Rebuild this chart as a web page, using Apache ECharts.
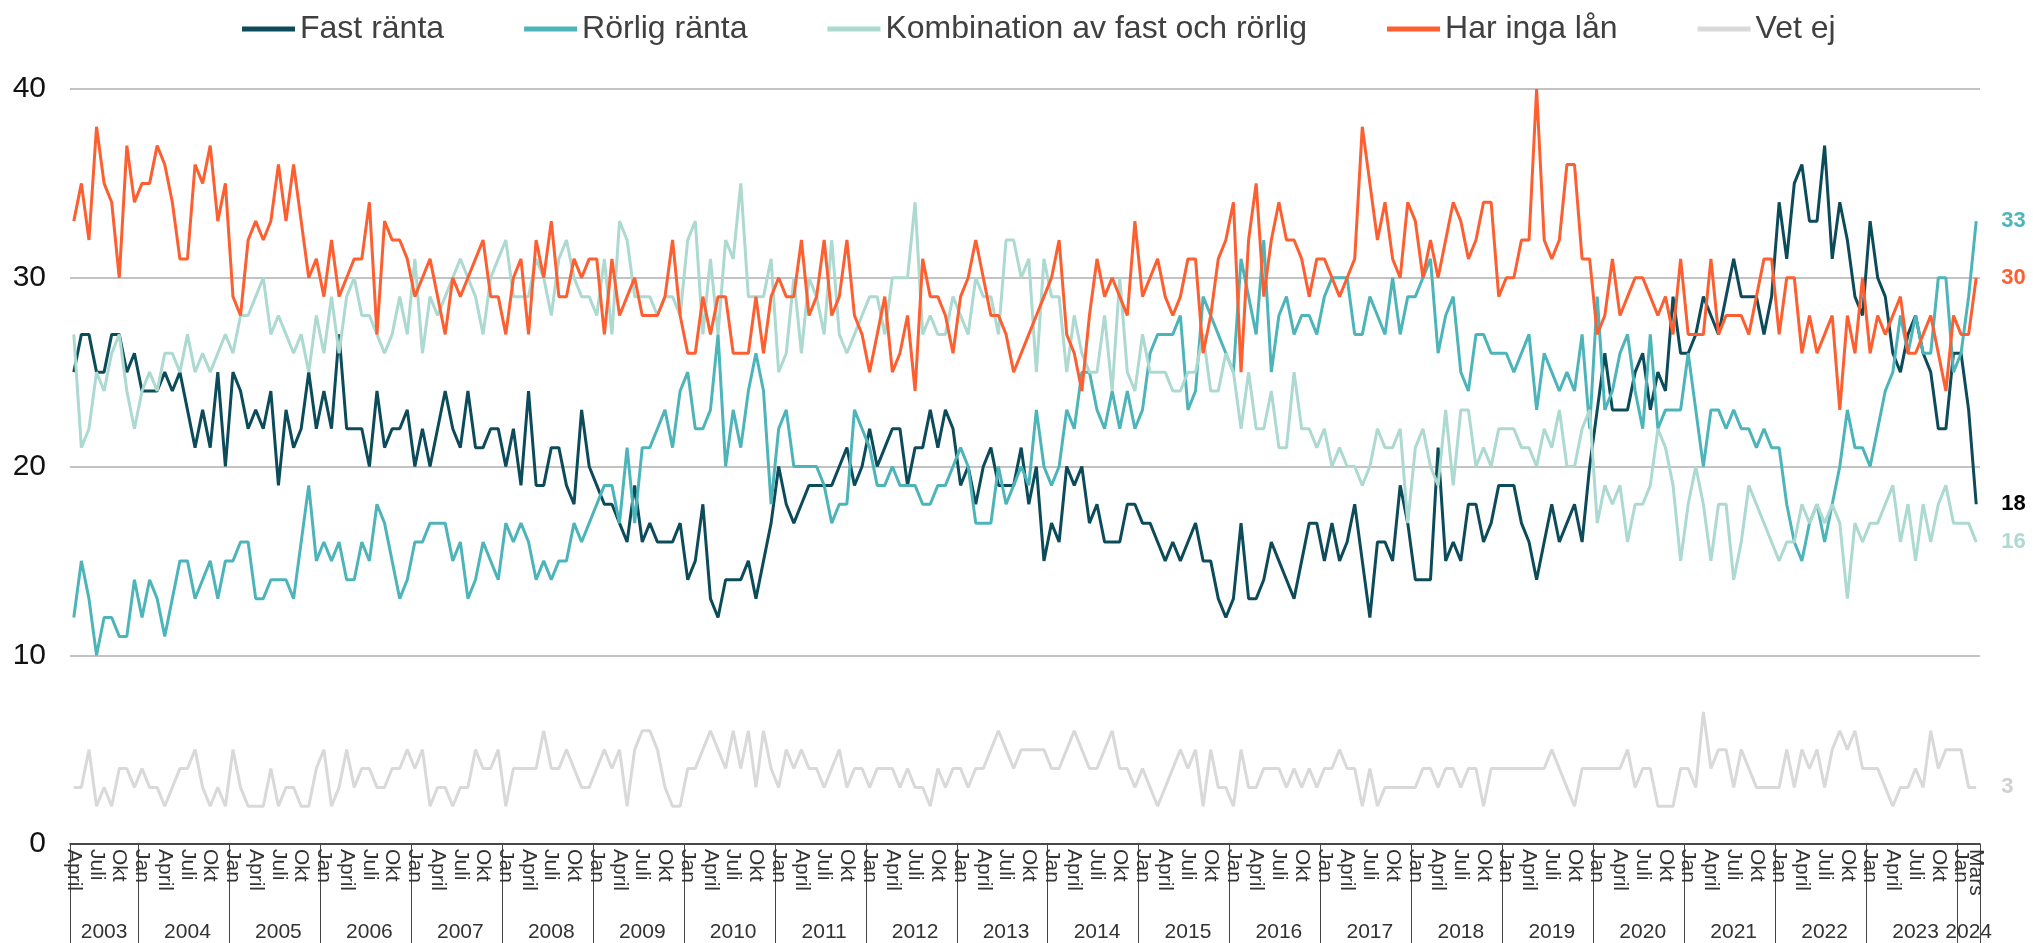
<!DOCTYPE html>
<html><head><meta charset="utf-8">
<script src="https://cdn.jsdelivr.net/npm/echarts@6/dist/echarts.min.js"></script>
<style>html,body{margin:0;padding:0;background:#fff}#c{width:2033px;height:943px}</style>
</head><body><div id="c"></div>
<script>
// ---- tick labels / categories ----
const monthNames = ['Jan','Feb','Mars','April','Maj','Juni','Juli','Aug','Sep','Okt','Nov','Dec'];
const years = ['2003','2004','2005','2006','2007','2008','2009','2010','2011','2012','2013','2014','2015','2016','2017','2018','2019','2020','2021','2022','2023','2024'];
const firstMonth = 3;   // April 2003
const nMonths = 252;    // April 2003 .. Mars 2024
const seriesNames = ['Fast ränta','Rörlig ränta','Kombination av fast och rörlig','Har inga lån','Vet ej'];

// ---- series values (percent), monthly ----
const fast = [
25,27,27,25,25,27,27,25,26,24,24,24,25,24,25,23,21,23,21,25,20,25,24,22,23,22,24,19,23,21,22,25,
22,24,22,27,22,22,22,20,24,21,22,22,23,20,22,20,22,24,22,21,24,21,21,22,22,20,22,19,24,19,19,
21,21,19,18,23,20,19,18,18,17,16,19,16,17,16,16,16,17,14,15,18,13,12,14,14,14,15,13,15,17,20,
18,17,18,19,19,19,19,20,21,19,20,22,20,21,22,22,19,21,21,23,21,23,22,19,20,18,20,21,19,19,19,
21,18,20,15,17,16,20,19,20,17,18,16,16,16,18,18,17,17,16,15,16,15,16,17,15,15,13,12,13,17,13,
13,14,16,15,14,13,15,17,17,15,17,15,16,18,15,12,16,16,15,19,17,14,14,14,21,15,16,15,18,18,16,
17,19,19,19,17,16,14,16,18,16,17,18,16,20,23,26,23,23,23,25,26,23,25,24,29,26,26,27,29,28,27,
29,31,29,29,29,27,29,34,31,35,36,33,33,37,31,34,32,29,28,33,30,29,26,25,27,28,26,25,22,22,26,26,23,18];
const rorlig = [
12,15,13,10,12,12,11,11,14,12,14,13,11,13,15,15,13,14,15,13,15,15,16,16,13,13,14,14,14,13,16,19,
15,16,15,16,14,14,16,15,18,17,15,13,14,16,16,17,17,17,15,16,13,14,16,15,14,17,16,17,16,14,15,
14,15,15,17,16,17,18,19,19,17,21,17,21,21,22,23,21,24,25,22,22,23,27,20,23,21,24,26,24,18,22,
23,20,20,20,20,19,17,18,18,23,22,21,19,19,20,19,19,19,18,18,19,19,20,21,20,17,17,17,20,18,19,
20,19,23,20,19,20,23,22,25,25,23,22,24,22,24,22,23,26,27,27,27,28,23,24,29,28,27,26,25,31,29,
27,32,25,28,29,27,28,28,27,29,30,30,30,27,27,29,28,27,30,27,29,29,30,31,26,28,29,25,24,27,27,
26,26,26,25,26,27,23,26,25,24,25,24,27,22,29,23,24,26,27,24,22,27,22,23,23,23,26,23,20,23,23,
22,23,22,22,21,22,21,21,18,16,15,17,18,16,18,20,23,21,21,20,22,24,25,28,26,28,26,26,30,30,25,26,29,33];
const kombination = [
27,21,22,25,24,26,27,24,22,24,25,24,26,26,25,27,25,26,25,26,27,26,28,28,29,30,27,28,27,26,27,25,
28,26,29,26,29,30,28,28,27,26,27,29,27,31,26,29,28,29,30,31,30,29,27,30,31,32,29,29,29,31,30,
28,31,32,30,29,29,28,31,27,33,32,29,29,29,28,29,29,28,32,33,27,31,27,32,31,35,29,29,29,31,25,
26,30,26,30,29,27,32,27,26,27,28,29,29,27,30,30,30,34,27,28,27,27,29,28,27,30,29,29,27,32,32,
30,31,25,31,29,29,25,28,26,25,25,28,24,30,25,24,27,25,25,25,24,24,25,25,27,24,24,26,25,22,25,
22,22,24,21,21,25,22,22,21,22,20,21,20,20,19,20,22,21,21,22,17,21,22,20,19,23,19,23,23,20,21,
20,22,22,22,21,21,20,22,21,23,20,20,22,23,17,19,18,19,16,18,18,19,22,21,19,15,18,20,18,15,18,
18,14,16,19,18,17,16,15,16,16,18,17,18,17,18,17,13,17,16,17,17,18,19,16,18,15,18,16,18,19,17,17,17,16];
const ingaLan = [
33,35,32,38,35,34,30,37,34,35,35,37,36,34,31,31,36,35,37,33,35,29,28,32,33,32,33,36,33,36,33,30,
31,29,32,29,30,31,31,34,27,33,32,32,31,29,30,31,29,27,30,29,30,31,32,29,29,27,30,31,27,32,30,
33,29,29,31,30,31,31,27,31,28,29,30,28,28,28,29,32,28,26,26,29,27,29,29,26,26,26,29,26,29,30,
29,29,32,28,29,32,28,29,32,28,27,25,27,29,25,26,28,24,31,29,29,28,26,29,30,32,30,28,28,27,25,
26,27,28,29,30,32,27,26,24,28,31,29,30,29,28,33,29,30,31,29,28,29,31,31,26,28,31,32,34,25,32,
35,29,32,34,32,32,31,29,31,31,30,29,30,31,38,35,32,34,31,30,34,33,30,32,30,32,34,33,31,32,34,
34,29,30,30,32,32,40,32,31,32,36,36,31,31,27,28,31,28,29,30,30,29,28,29,27,31,27,27,27,31,27,
28,28,28,27,29,31,31,27,30,30,26,28,26,27,28,23,28,26,30,26,28,27,28,29,26,26,27,28,26,24,28,27,27,30];
const vetEj = [
3,3,5,2,3,2,4,4,3,4,3,3,2,3,4,4,5,3,2,3,2,5,3,2,2,2,4,2,3,3,2,2,
4,5,2,3,5,3,4,4,3,3,4,4,5,4,5,2,3,3,2,3,3,5,4,4,5,2,4,4,4,4,6,
4,4,5,4,3,3,4,5,4,5,2,5,6,6,5,3,2,2,4,4,5,6,5,4,6,4,6,3,6,4,3,
5,4,5,4,4,3,4,5,3,4,4,3,4,4,4,3,4,3,3,2,4,3,4,4,3,4,4,5,6,5,4,
5,5,5,5,4,4,5,6,5,4,4,5,6,4,4,3,4,3,2,3,4,5,4,5,2,5,3,3,2,5,
3,3,4,4,4,3,4,3,4,3,4,4,5,4,4,2,4,2,3,3,3,3,3,4,4,3,4,4,3,4,
4,2,4,4,4,4,4,4,4,4,5,4,3,2,4,4,4,4,4,4,5,3,4,4,2,2,2,4,4,3,
7,4,5,5,3,5,4,3,3,3,3,5,3,5,4,5,3,5,6,5,6,4,4,4,3,2,3,3,4,3,
6,4,5,5,5,3,3];

// ---- build category axes from the small arrays above ----
const categories = [];
const yearCats = [];
for (let i = 0; i < nMonths; i++) {
  categories.push(monthNames[(firstMonth + i) % 12]);
  yearCats.push('');
}
years.forEach((y, k) => {
  const first = Math.max(0, k * 12 - firstMonth);
  const last = Math.min(nMonths - 1, k * 12 + 11 - firstMonth);
  yearCats[Math.round((first + last) / 2)] = y;
});

const colors = ['#0c4b5a', '#4db5ba', '#acd9d0', '#fd5f30', '#d9d9d9'];
const endColors = ['#000000', '#4db5ba', '#acd9d0', '#fd5f30', '#d0d0d0'];
const values = [fast, rorlig, kombination, ingaLan, vetEj];
const FONT = '"Liberation Sans", Arial, sans-serif';
const monthLabelStyle = {rotate: -90, fontSize: 21, color: '#333', margin: 5, fontFamily: FONT};

const chart = echarts.init(document.getElementById('c'), null, {renderer: 'canvas'});
chart.setOption({
  animation: false,
  color: colors,
  textStyle: {fontFamily: FONT},
  legend: {
    top: 8, left: 237, icon: 'rect', itemWidth: 53, itemHeight: 5, itemGap: 80,
    textStyle: {fontSize: 32, color: '#404040', fontFamily: FONT},
    data: seriesNames
  },
  grid: {left: 70, right: 53, top: 89, bottom: 99},
  xAxis: [{
    type: 'category', data: categories, boundaryGap: true,
    axisLine: {lineStyle: {color: '#222', width: 1.5}},
    axisTick: {show: true, length: 100, interval: (i) => i === 0 || (firstMonth + i) % 12 === 0,
               lineStyle: {color: '#444', width: 1}},
    axisLabel: Object.assign({interval: (i) => i % 3 === 0, showMaxLabel: true, showMinLabel: true,
                hideOverlap: false}, monthLabelStyle)
  }, {
    type: 'category', data: yearCats, boundaryGap: true, position: 'bottom',
    axisLine: {show: false}, axisTick: {show: false},
    axisLabel: {interval: 0, fontSize: 21, color: '#333', margin: 78, fontFamily: FONT,
                showMaxLabel: true, showMinLabel: true}
  }, {
    // last month label ("Mars") on its own axis so it is not dropped next to "Jan"
    type: 'category', data: categories, boundaryGap: true, position: 'bottom',
    axisLine: {show: false}, axisTick: {show: false},
    axisLabel: Object.assign({interval: (i) => i === nMonths - 1, showMaxLabel: true,
                showMinLabel: false}, monthLabelStyle)
  }],
  yAxis: {
    type: 'value', min: 0, max: 40, interval: 10,
    axisLine: {show: false}, axisTick: {show: false},
    axisLabel: {fontSize: 30, color: '#111', margin: 24, fontFamily: FONT},
    splitLine: {lineStyle: {color: '#c3c3c3', width: 2}}
  },
  series: seriesNames.map((n, k) => ({
    name: n, type: 'line', data: values[k], xAxisIndex: 0,
    symbol: 'none', showSymbol: false,
    lineStyle: {width: 3, color: colors[k]},
    itemStyle: {color: colors[k]},
    endLabel: {show: true, formatter: '{c}', distance: 25, fontSize: 22, fontWeight: 'bold',
               color: endColors[k], fontFamily: FONT}
  }))
});
</script>
</body></html>
